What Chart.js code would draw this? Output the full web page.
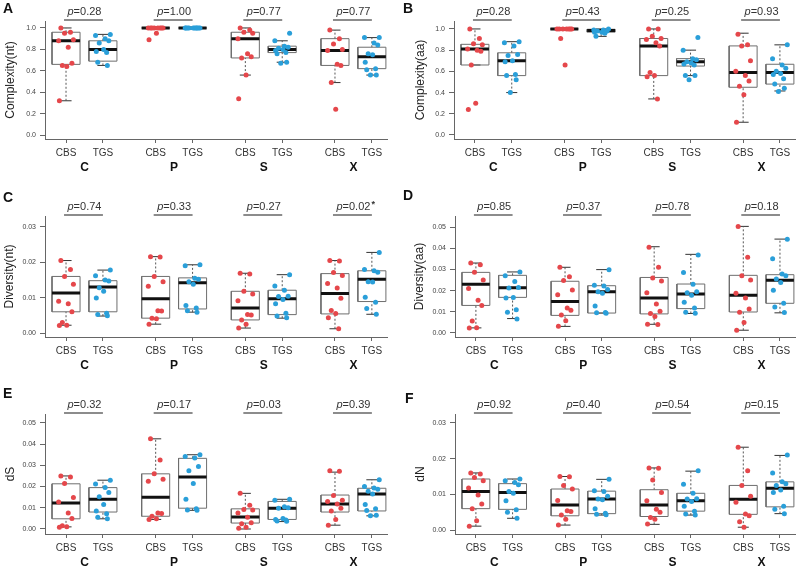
<!DOCTYPE html>
<html>
<head>
<meta charset="utf-8">
<script src="https://cdn.jsdelivr.net/npm/chart.js@4"></script>
<style>
  body { margin: 0; background: #fff; }
  #wrap { position: relative; width: 799px; height: 568px; overflow: hidden; background: #fff; }
  canvas { position: absolute; }
</style>
</head>
<body>
<div id="wrap">
  <canvas id="cA" width="400" height="185" style="left:0;top:0"></canvas>
  <canvas id="cB" width="399" height="185" style="left:400px;top:0"></canvas>
  <canvas id="cC" width="400" height="190" style="left:0;top:185px"></canvas>
  <canvas id="cD" width="399" height="190" style="left:400px;top:185px"></canvas>
  <canvas id="cE" width="400" height="193" style="left:0;top:375px"></canvas>
  <canvas id="cF" width="399" height="193" style="left:400px;top:375px"></canvas>
</div>
<script>
// categories
var groups = ['C', 'P', 'S', 'X'];
var methods = ['CBS', 'TGS'];

// y tick labels
var ticks1 = [0, 0.2, 0.4, 0.6, 0.8, 1.0];
var ticks03 = [0, 0.01, 0.02, 0.03];
var ticks05 = [0, 0.01, 0.02, 0.03, 0.04, 0.05];

// box stats [low whisker, q1, median, q3, high whisker], order CBS C, TGS C, CBS P, TGS P, ...
// A: Complexity(nt)
var A_box = [[0.32, 0.66, 0.88, 0.96, 1.0], [0.65, 0.69, 0.80, 0.88, 0.94],
             [1.0, 1.0, 1.0, 1.0, 1.0], [1.0, 1.0, 1.0, 1.0, 1.0],
             [0.56, 0.72, 0.90, 0.96, 1.0], [0.68, 0.77, 0.80, 0.83, 0.88],
             [0.49, 0.65, 0.79, 0.90, 0.98], [0.56, 0.62, 0.73, 0.82, 0.91]];
var A_cbs = [[1.0, 0.96, 0.95, 0.89, 0.88, 0.82, 0.67, 0.65, 0.64, 0.32],
             [1.0, 1.0, 1.0, 1.0, 1.0, 1.0, 1.0, 1.0, 0.95, 0.89],
             [1.0, 0.98, 0.96, 0.95, 0.90, 0.76, 0.73, 0.72, 0.56, 0.34],
             [0.98, 0.90, 0.85, 0.80, 0.79, 0.66, 0.65, 0.49, 0.24]];
var A_tgs = [[0.94, 0.93, 0.90, 0.88, 0.86, 0.80, 0.78, 0.77, 0.68, 0.65],
             [1.0, 1.0, 1.0, 1.0, 1.0, 1.0, 1.0, 1.0, 1.0, 1.0],
             [0.95, 0.88, 0.83, 0.82, 0.81, 0.80, 0.79, 0.77, 0.76, 0.68, 0.67],
             [0.91, 0.91, 0.86, 0.84, 0.76, 0.75, 0.68, 0.62, 0.61, 0.56, 0.56]];
var A_p = ['0.28', '1.00', '0.77', '0.77'];

// B: Complexity(aa)
var B_box = [[0.66, 0.66, 0.81, 0.855, 1.0], [0.40, 0.56, 0.70, 0.775, 0.88],
             [1.0, 1.0, 1.0, 1.0, 1.0], [0.93, 0.97, 0.985, 0.997, 1.0],
             [0.34, 0.56, 0.84, 0.91, 1.0], [0.56, 0.65, 0.69, 0.72, 0.80],
             [0.12, 0.45, 0.59, 0.84, 0.96], [0.415, 0.48, 0.59, 0.667, 0.85]];
var B_cbs = [[1.0, 0.91, 0.86, 0.85, 0.81, 0.80, 0.79, 0.66, 0.30, 0.24],
             [1.0, 1.0, 1.0, 1.0, 1.0, 1.0, 1.0, 0.91, 0.66],
             [1.0, 1.0, 0.93, 0.91, 0.90, 0.87, 0.84, 0.59, 0.56, 0.55, 0.34],
             [0.95, 0.85, 0.84, 0.70, 0.60, 0.56, 0.51, 0.46, 0.38, 0.12]];
var B_tgs = [[0.88, 0.87, 0.84, 0.76, 0.75, 0.70, 0.69, 0.57, 0.56, 0.52, 0.40],
             [1.0, 0.99, 0.99, 0.98, 0.98, 0.97, 0.97, 0.96, 0.93],
             [0.92, 0.80, 0.72, 0.71, 0.69, 0.68, 0.67, 0.66, 0.56, 0.56, 0.52],
             [0.85, 0.72, 0.66, 0.63, 0.60, 0.58, 0.57, 0.53, 0.48, 0.44, 0.41]];
var B_p = ['0.28', '0.43', '0.25', '0.93'];

// C: Diversity(nt)
var C_box = [[0.0022, 0.006, 0.0113, 0.016, 0.0205], [0.0048, 0.006, 0.013, 0.0148, 0.0178],
             [0.0025, 0.0042, 0.0097, 0.016, 0.0216], [0.0059, 0.0068, 0.0142, 0.0156, 0.0193],
             [0.0014, 0.0037, 0.0071, 0.0118, 0.0169], [0.0042, 0.0052, 0.0097, 0.0121, 0.0165],
             [0.0012, 0.0054, 0.0112, 0.0168, 0.0205], [0.0053, 0.0089, 0.0152, 0.0176, 0.0228]];
var C_cbs = [[0.0205, 0.018, 0.016, 0.0138, 0.009, 0.0083, 0.006, 0.003, 0.0022, 0.0021],
             [0.0216, 0.0215, 0.016, 0.0145, 0.0132, 0.0063, 0.0062, 0.0042, 0.004, 0.0025],
             [0.0169, 0.0167, 0.0118, 0.011, 0.0091, 0.0052, 0.0051, 0.0037, 0.0025, 0.0014],
             [0.0205, 0.0204, 0.0171, 0.0163, 0.014, 0.0127, 0.0098, 0.0064, 0.0055, 0.0043, 0.0012]];
var C_tgs = [[0.0178, 0.0162, 0.015, 0.0147, 0.0128, 0.0118, 0.0099, 0.0056, 0.0052, 0.0049],
             [0.0193, 0.019, 0.0155, 0.0152, 0.0145, 0.0138, 0.0078, 0.0071, 0.0063, 0.0059],
             [0.0165, 0.0133, 0.0121, 0.0104, 0.0103, 0.0095, 0.0083, 0.0056, 0.0048, 0.0043],
             [0.0228, 0.018, 0.0176, 0.0172, 0.0145, 0.0144, 0.0101, 0.0087, 0.0069, 0.0053]];
var C_p = ['0.74', '0.33', '0.27', '0.02*'];

// D: Diversity(aa)
var D_box = [[0.0024, 0.013, 0.023, 0.0286, 0.033], [0.0068, 0.0168, 0.0213, 0.0272, 0.0288],
             [0.0031, 0.0083, 0.0149, 0.0244, 0.031], [0.0094, 0.0094, 0.0194, 0.0223, 0.0299],
             [0.0041, 0.009, 0.0165, 0.0262, 0.0407], [0.0092, 0.0115, 0.0184, 0.0231, 0.0371],
             [0.0013, 0.0099, 0.0178, 0.0272, 0.0503], [0.0095, 0.014, 0.0249, 0.0275, 0.0443]];
var D_cbs = [[0.033, 0.0322, 0.0287, 0.025, 0.021, 0.0155, 0.013, 0.0057, 0.0025, 0.0024],
             [0.031, 0.0265, 0.0248, 0.0203, 0.018, 0.0118, 0.0107, 0.0085, 0.0058, 0.0032],
             [0.0405, 0.031, 0.026, 0.0245, 0.019, 0.0137, 0.0103, 0.0092, 0.0078, 0.0041, 0.004],
             [0.0503, 0.0357, 0.027, 0.025, 0.0187, 0.0165, 0.0113, 0.0098, 0.005, 0.0013]];
var D_tgs = [[0.0288, 0.027, 0.0243, 0.0215, 0.0212, 0.0167, 0.0165, 0.011, 0.0098, 0.0066],
             [0.0298, 0.0225, 0.0222, 0.0205, 0.0195, 0.0187, 0.0127, 0.0097, 0.0095, 0.0093],
             [0.0368, 0.0285, 0.023, 0.0195, 0.019, 0.0178, 0.0145, 0.0118, 0.0098, 0.0093],
             [0.0442, 0.035, 0.0278, 0.027, 0.0255, 0.0238, 0.0202, 0.014, 0.0122, 0.0097]];
var D_p = ['0.85', '0.37', '0.78', '0.18'];

// E: dS
var E_box = [[0.001, 0.0048, 0.0122, 0.0213, 0.025], [0.0048, 0.008, 0.014, 0.0195, 0.023],
             [0.0045, 0.006, 0.015, 0.026, 0.0425], [0.0088, 0.0098, 0.0245, 0.0333, 0.035],
             [0.0, 0.0028, 0.0057, 0.0095, 0.0168], [0.0035, 0.0045, 0.0098, 0.013, 0.014],
             [0.0018, 0.008, 0.0118, 0.016, 0.0268], [0.0062, 0.0085, 0.0165, 0.0192, 0.0232]];
var E_cbs = [[0.025, 0.0245, 0.0215, 0.0148, 0.0127, 0.0075, 0.005, 0.0015, 0.001, 0.0008],
             [0.0425, 0.0325, 0.026, 0.0235, 0.0225, 0.0075, 0.0073, 0.006, 0.0048, 0.0045],
             [0.0168, 0.0112, 0.0092, 0.009, 0.0075, 0.0055, 0.003, 0.0025, 0.0008, 0.0003],
             [0.0275, 0.0272, 0.0158, 0.0135, 0.013, 0.0118, 0.0098, 0.0085, 0.0045, 0.0018]];
var E_tgs = [[0.023, 0.0212, 0.0195, 0.0172, 0.0152, 0.0115, 0.0085, 0.0072, 0.0055, 0.0048],
             [0.035, 0.0342, 0.0335, 0.0295, 0.0275, 0.0215, 0.014, 0.0095, 0.009, 0.0088],
             [0.014, 0.0135, 0.0105, 0.01, 0.0098, 0.005, 0.0045, 0.0042, 0.0038, 0.0036],
             [0.0232, 0.02, 0.0193, 0.0187, 0.0178, 0.0165, 0.0115, 0.0095, 0.0087, 0.0065, 0.0062]];
var E_p = ['0.32', '0.17', '0.03', '0.39'];

// F: dN
var F_box = [[0.0011, 0.006, 0.0108, 0.0143, 0.016], [0.0033, 0.0058, 0.0105, 0.013, 0.0143],
             [0.0014, 0.004, 0.007, 0.0115, 0.015], [0.0042, 0.0046, 0.0087, 0.0109, 0.0142],
             [0.0016, 0.0038, 0.007, 0.0113, 0.0174], [0.0042, 0.0053, 0.0082, 0.0103, 0.0165],
             [0.0008, 0.0044, 0.0086, 0.0125, 0.0232], [0.0046, 0.0065, 0.0117, 0.0135, 0.0209]];
var F_cbs = [[0.016, 0.0157, 0.0147, 0.0138, 0.0118, 0.0098, 0.0073, 0.006, 0.0026, 0.0011],
             [0.015, 0.0149, 0.0125, 0.0115, 0.0083, 0.0054, 0.0052, 0.0042, 0.003, 0.0014],
             [0.0174, 0.0173, 0.014, 0.0105, 0.0082, 0.0058, 0.005, 0.0035, 0.003, 0.0017],
             [0.0232, 0.0166, 0.0125, 0.0095, 0.0078, 0.0045, 0.004, 0.0023, 0.0008]];
var F_tgs = [[0.0143, 0.0138, 0.0133, 0.0127, 0.0108, 0.0103, 0.0082, 0.0057, 0.005, 0.0033],
             [0.0142, 0.011, 0.0108, 0.0095, 0.0087, 0.0085, 0.006, 0.0047, 0.0044, 0.0043],
             [0.0166, 0.0128, 0.0103, 0.0088, 0.0087, 0.008, 0.0067, 0.0053, 0.0045, 0.0042],
             [0.021, 0.016, 0.0135, 0.013, 0.0125, 0.0112, 0.0105, 0.0067, 0.0058, 0.0046]];
var F_p = ['0.92', '0.40', '0.54', '0.15'];

// layout / style
var FONT = '"Liberation Sans", Arial, Helvetica, sans-serif';
var RED = '#e5474b';
var BLUE = '#2a9fd9';
var xPos = [1, 2, 3.43, 4.43, 5.86, 6.86, 8.29, 9.29];
var X_MIN = 0.43, X_MAX = 9.7;
var BW = 0.38, CW = 0.15;
var JIT = [-0.14, 0.12, -0.04, 0.2, -0.2, 0.06, 0.16, -0.1, 0.02, -0.18, 0.1];

Chart.defaults.font.family = FONT;

// panel letter + p-value brackets
var deco = {
    id: 'deco',
    afterDraw: function (chart, args, o) {
        var ctx = chart.ctx, xs = chart.scales.x, top = chart.chartArea.top;
        ctx.save();
        ctx.fillStyle = '#111';
        ctx.textAlign = 'left';
        ctx.textBaseline = 'alphabetic';
        ctx.font = 'bold 14px ' + FONT;
        ctx.fillText(o.letter, o.lx, o.ly);

        o.p.forEach(function (pv, g) {
            var x1 = xs.getPixelForValue(xPos[g * 2]);
            var x2 = xs.getPixelForValue(xPos[g * 2 + 1]);
            ctx.strokeStyle = '#8c8c8c';
            ctx.lineWidth = 2;
            ctx.beginPath();
            ctx.moveTo(x1 - 2, top - 1);
            ctx.lineTo(x2, top - 1);
            ctx.stroke();

            var star = pv.slice(-1) === '*';
            var rest = '=' + (star ? pv.slice(0, -1) : pv);
            ctx.font = 'italic 11px ' + FONT;
            var w1 = ctx.measureText('p').width;
            ctx.font = '11px ' + FONT;
            var w2 = ctx.measureText(rest).width;
            var sx = (x1 + x2) / 2 - (w1 + w2) / 2, ty = top - 9;
            ctx.fillStyle = '#333';
            ctx.textBaseline = 'middle';
            ctx.font = 'italic 11px ' + FONT;
            ctx.fillText('p', sx, ty);
            ctx.font = '11px ' + FONT;
            ctx.fillText(rest, sx + w1, ty);
            if (star) {
                ctx.font = 'bold 9px ' + FONT;
                ctx.fillText('*', sx + w1 + w2 + 1, ty - 2);
            }
        });
        ctx.restore();
    }
};

function buildDatasets(box, cbs, tgs) {
    var rect = [], whisk = [], caps = [], meds = [], red = [], blue = [];
    box.forEach(function (b, i) {
        var p = xPos[i];
        rect.push({x: p - BW, y: b[1]}, {x: p + BW, y: b[1]}, {x: p + BW, y: b[3]},
                  {x: p - BW, y: b[3]}, {x: p - BW, y: b[1]}, {x: p, y: null});
        whisk.push({x: p, y: b[3]}, {x: p, y: b[4]}, {x: p, y: null},
                   {x: p, y: b[0]}, {x: p, y: b[1]}, {x: p, y: null});
        caps.push({x: p - CW, y: b[4]}, {x: p + CW, y: b[4]}, {x: p, y: null},
                  {x: p - CW, y: b[0]}, {x: p + CW, y: b[0]}, {x: p, y: null});
        meds.push({x: p - BW, y: b[2]}, {x: p + BW, y: b[2]}, {x: p, y: null});
    });
    groups.forEach(function (g, gi) {
        cbs[gi].forEach(function (v, k) {
            red.push({x: xPos[gi * 2] + JIT[k % JIT.length], y: v});
        });
        tgs[gi].forEach(function (v, k) {
            blue.push({x: xPos[gi * 2 + 1] + JIT[(k + 3) % JIT.length], y: v});
        });
    });
    var line = {type: 'line', pointRadius: 0, borderWidth: 1, tension: 0, spanGaps: false, fill: false, clip: false};
    return [
        {label: 'CBS', data: red, backgroundColor: RED, pointRadius: 2.5, borderWidth: 0, order: 0, clip: false},
        {label: 'TGS', data: blue, backgroundColor: BLUE, pointRadius: 2.5, borderWidth: 0, order: 0, clip: false},
        Object.assign({}, line, {data: meds, borderColor: '#111', borderWidth: 3, order: 1}),
        Object.assign({}, line, {data: rect, borderColor: '#6e6e6e', order: 2}),
        Object.assign({}, line, {data: whisk, borderColor: '#555', borderDash: [2, 2], order: 2}),
        Object.assign({}, line, {data: caps, borderColor: '#333', order: 2})
    ];
}

function makePanel(c) {
    var padB = c.H - c.bottom - 34;
    new Chart(document.getElementById(c.id), {
        type: 'scatter',
        data: {datasets: buildDatasets(c.box, c.cbs, c.tgs)},
        plugins: [deco],
        options: {
            responsive: false,
            animation: false,
            devicePixelRatio: 1,
            layout: {padding: {top: c.top, bottom: padB, left: 0, right: c.padR}},
            plugins: {
                legend: {display: false},
                tooltip: {enabled: false},
                deco: {letter: c.letter, lx: c.lx, ly: c.ly, p: c.p}
            },
            scales: {
                x: {
                    type: 'linear', position: 'bottom', min: X_MIN, max: X_MAX,
                    afterBuildTicks: function (s) { s.ticks = xPos.map(function (v) { return {value: v}; }); },
                    afterFit: function (s) { s.height = 20; },
                    ticks: {
                        callback: function (v, i) { return methods[i % 2]; },
                        font: {size: 10}, color: '#333', padding: 4, autoSkip: false, maxRotation: 0
                    },
                    grid: {drawOnChartArea: false, drawTicks: true, tickLength: 4, color: '#666'},
                    border: {display: true, color: '#666', width: 1}
                },
                g: {
                    type: 'linear', position: 'bottom', weight: 1, min: X_MIN, max: X_MAX,
                    afterBuildTicks: function (s) {
                        s.ticks = groups.map(function (g, i) { return {value: (xPos[i * 2] + xPos[i * 2 + 1]) / 2}; });
                    },
                    afterFit: function (s) { s.height = 14; },
                    ticks: {
                        callback: function (v, i) { return groups[i]; },
                        font: {size: 12, weight: 'bold'}, color: '#111', padding: 1, autoSkip: false, maxRotation: 0
                    },
                    grid: {display: false, drawTicks: false},
                    border: {display: false}
                },
                y: {
                    type: 'linear', min: c.yMin, max: c.yMax,
                    afterBuildTicks: function (s) { s.ticks = c.ticks.map(function (v) { return {value: v}; }); },
                    afterFit: function (s) { s.width = c.yW; },
                    ticks: {
                        callback: function (v) { return v.toFixed(c.dec); },
                        font: {size: 7}, color: '#444', padding: 4
                    },
                    grid: {drawOnChartArea: false, drawTicks: true, tickLength: 5, color: '#666'},
                    border: {display: true, color: '#666', width: 1},
                    title: {display: true, text: c.title, font: {size: 12}, color: '#222', padding: {top: c.titlePad, bottom: 0}}
                }
            }
        }
    });
}

makePanel({id: 'cA', letter: 'A', lx: 3, ly: 13, title: 'Complexity(nt)', box: A_box, cbs: A_cbs, tgs: A_tgs, p: A_p,
    ticks: ticks1, dec: 1, yMin: -0.037, yMax: 1.065, yW: 45, titlePad: 3, padR: 13, top: 21, bottom: 139, H: 185});
makePanel({id: 'cB', letter: 'B', lx: 3, ly: 13, title: 'Complexity(aa)', box: B_box, cbs: B_cbs, tgs: B_tgs, p: B_p,
    ticks: ticks1, dec: 1, yMin: -0.038, yMax: 1.075, yW: 54, titlePad: 13, padR: 2, top: 21, bottom: 139, H: 185});
makePanel({id: 'cC', letter: 'C', lx: 3, ly: 17, title: 'Diversity(nt)', box: C_box, cbs: C_cbs, tgs: C_tgs, p: C_p,
    ticks: ticks03, dec: 2, yMin: -0.00113, yMax: 0.0331, yW: 45, titlePad: 2, padR: 13, top: 31, bottom: 152, H: 190});
makePanel({id: 'cD', letter: 'D', lx: 3, ly: 15, title: 'Diversity(aa)', box: D_box, cbs: D_cbs, tgs: D_tgs, p: D_p,
    ticks: ticks05, dec: 2, yMin: -0.0019, yMax: 0.0552, yW: 55, titlePad: 12, padR: 2, top: 31, bottom: 152, H: 190});
makePanel({id: 'cE', letter: 'E', lx: 3, ly: 23, title: 'dS', box: E_box, cbs: E_cbs, tgs: E_tgs, p: E_p,
    ticks: ticks05, dec: 2, yMin: -0.00236, yMax: 0.0542, yW: 45, titlePad: 3, padR: 13, top: 39, bottom: 159, H: 193});
makePanel({id: 'cF', letter: 'F', lx: 5, ly: 28, title: 'dN', box: F_box, cbs: F_cbs, tgs: F_tgs, p: F_p,
    ticks: ticks03, dec: 2, yMin: -0.0011, yMax: 0.0325, yW: 55, titlePad: 13, padR: 2, top: 39, bottom: 159, H: 193});
</script>
</body>
</html>
